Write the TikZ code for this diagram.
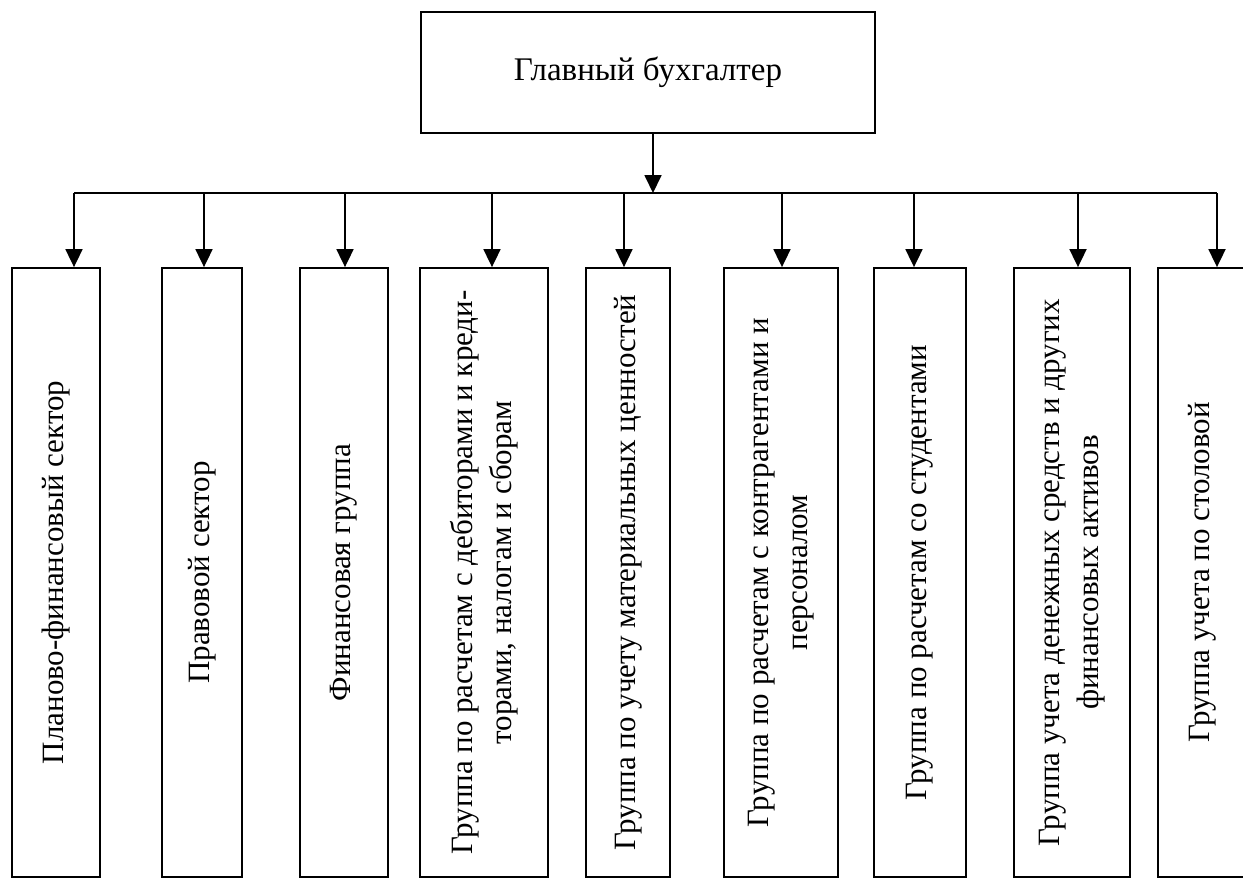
\documentclass[tikz,border=0pt]{standalone}
\usepackage{fontspec}
\setmainfont{Liberation Serif}
\usetikzlibrary{arrows.meta,positioning,calc}

\tikzset{
  unitbox/.style={draw, line width=0.9pt, minimum height=304.5pt, inner sep=0pt},
  unittext/.style={rotate=90, align=center, inner sep=0pt, font=\fontsize{15.5}{19.5}\selectfont},
  link/.style={line width=0.9pt, -{Triangle[width=8.5pt,length=9pt]}},
}

\begin{document}
\begin{tikzpicture}[x=0.5pt,y=-0.5pt]
    \useasboundingbox (0,0) rectangle (1243,879);
    \clip (0,0) rectangle (1243,879);

    % Head
    \node[draw, line width=0.9pt, minimum width=227pt, minimum height=60.5pt,
          font=\fontsize{16.5}{19.5}\selectfont] (head) at (648,72.5) {Главный бухгалтер};

    % Bus
    \coordinate (bus) at (653,193);
    \coordinate (t1) at (74,193);
    \coordinate (t2) at (204,193);
    \coordinate (t3) at (345,193);
    \coordinate (t4) at (492,193);
    \coordinate (t5) at (624,193);
    \coordinate (t6) at (782,193);
    \coordinate (t7) at (914,193);
    \coordinate (t8) at (1078,193);
    \coordinate (t9) at (1217,193);
    \draw[link] (head.south -| bus) -- (bus);
    \draw[line width=0.9pt] (t1) -- (t9);

    % Sectors and groups
    \node[unitbox, minimum width=44pt] (b1) at (56,572.5) {};
    \node[unitbox, minimum width=40pt] (b2) at (202,572.5) {};
    \node[unitbox, minimum width=44pt] (b3) at (344,572.5) {};
    \node[unitbox, minimum width=64pt] (b4) at (484,572.5) {};
    \node[unitbox, minimum width=42pt] (b5) at (628,572.5) {};
    \node[unitbox, minimum width=57pt] (b6) at (781,572.5) {};
    \node[unitbox, minimum width=46pt] (b7) at (920,572.5) {};
    \node[unitbox, minimum width=58pt] (b8) at (1072,572.5) {};
    \node[unitbox, minimum width=44pt] (b9) at (1202,572.5) {};

    % Labels
    \node[unittext] (l1) at (b1) {Планово-финансовый сектор};
    \node[unittext] (l2) at (b2) {Правовой сектор};
    \node[unittext] (l3) at (b3) {Финансовая группа};
    \node[unittext] (l4) at (b4) {Группа по расчетам с дебиторами и креди-\\торами, налогам и сборам};
    \node[unittext] (l5) at (b5) {Группа по учету материальных ценностей};
    \node[unittext] (l6) at (b6) {Группа по расчетам с контрагентами и\\персоналом};
    \node[unittext] (l7) at (b7) {Группа по расчетам со студентами};
    \node[unittext] (l8) at (b8) {Группа учета денежных средств и других\\финансовых активов};
    \node[unittext] (l9) at (b9) {Группа учета по столовой};

    % Arrows
    \draw[link] (t1) -- (t1 |- b1.north);
    \draw[link] (t2) -- (t2 |- b2.north);
    \draw[link] (t3) -- (t3 |- b3.north);
    \draw[link] (t4) -- (t4 |- b4.north);
    \draw[link] (t5) -- (t5 |- b5.north);
    \draw[link] (t6) -- (t6 |- b6.north);
    \draw[link] (t7) -- (t7 |- b7.north);
    \draw[link] (t8) -- (t8 |- b8.north);
    \draw[link] (t9) -- (t9 |- b9.north);
\end{tikzpicture}
\end{document}
